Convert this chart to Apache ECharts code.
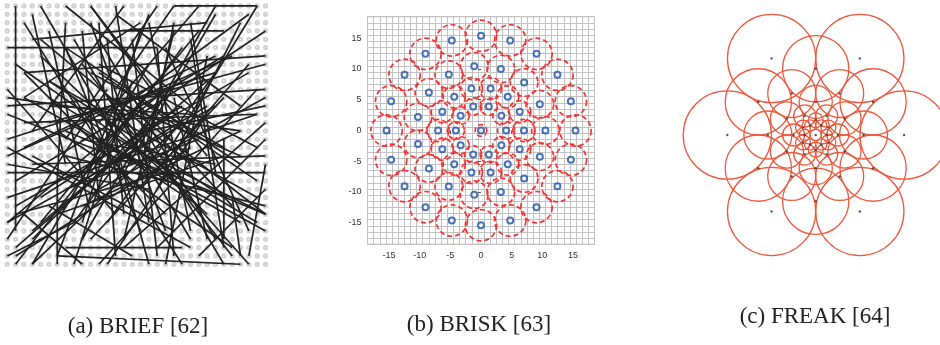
<!DOCTYPE html>
<html>
<head>
<meta charset="utf-8">
<script src="https://cdn.jsdelivr.net/npm/echarts@6/dist/echarts.min.js"></script>
<style>
  html, body { margin: 0; background: #fff; }
  #chart { width: 940px; height: 345px; }
</style>
</head>
<body>
<div id="chart"></div>
<script>
// (a) BRIEF: 32x32 sampling lattice and the random test pairs (col, row)
const briefCols = [1, 2, 3, 4, 5, 6, 7, 8, 9, 10, 11, 12, 13, 14, 15, 16, 17, 18, 19, 20, 21, 22, 23, 24, 25, 26, 27, 28, 29, 30, 31, 32];
const briefRows = [1, 2, 3, 4, 5, 6, 7, 8, 9, 10, 11, 12, 13, 14, 15, 16, 17, 18, 19, 20, 21, 22, 23, 24, 25, 26, 27, 28, 29, 30, 31, 32];
const briefPairs = [
  [2, 1, 2, 28], [1, 6, 19, 6], [21, 1, 31, 1], [21, 1, 14, 11], [31, 1, 20, 19],
  [7, 22, 7, 32], [7, 31, 29, 32], [1, 21, 32, 21], [5, 1, 16, 20], [8, 1, 23, 13],
  [3, 3, 13, 19], [11, 1, 19, 12], [15, 1, 4, 16], [19, 1, 8, 17], [14, 2, 29, 13],
  [24, 1, 12, 15], [26, 2, 15, 21], [29, 3, 19, 23], [15, 4, 27, 4], [4, 5, 25, 3],
  [3, 9, 32, 7], [6, 15, 32, 8], [1, 13, 32, 11], [2, 8, 22, 22], [1, 11, 14, 26],
  [1, 17, 26, 9], [4, 2, 8, 20], [6, 4, 11, 26], [8, 3, 7, 22], [12, 3, 14, 31],
  [16, 5, 19, 31], [18, 3, 23, 28], [23, 5, 27, 30], [20, 6, 30, 28], [6, 10, 31, 24],
  [3, 12, 29, 27], [1, 18, 23, 30], [1, 27, 26, 13], [1, 29, 13, 11], [2, 32, 19, 10],
  [4, 32, 22, 15], [1, 24, 31, 14], [2, 22, 27, 7], [5, 27, 24, 4], [7, 31, 18, 2],
  [10, 29, 26, 1], [12, 32, 31, 11], [15, 30, 32, 15], [20, 32, 25, 7], [26, 29, 12, 5],
  [28, 31, 10, 8], [31, 27, 6, 12], [32, 26, 8, 16], [32, 19, 4, 20], [31, 14, 3, 15],
  [30, 9, 2, 25], [28, 7, 1, 19], [32, 12, 12, 23], [27, 12, 11, 29], [25, 14, 13, 32],
  [23, 18, 2, 31], [20, 11, 1, 27], [18, 8, 4, 32], [16, 10, 9, 32], [13, 14, 18, 32],
  [9, 12, 22, 32], [7, 16, 28, 30], [8, 19, 32, 25], [12, 17, 32, 28], [14, 14, 30, 32],
  [17, 15, 27, 32], [21, 12, 25, 29], [22, 9, 9, 27], [25, 10, 4, 28], [26, 7, 3, 18],
  [29, 16, 1, 12], [29, 20, 8, 6], [31, 22, 12, 9], [27, 24, 6, 10], [25, 26, 5, 7],
  [23, 29, 9, 5], [20, 28, 11, 3], [18, 27, 14, 1], [15, 29, 21, 4], [13, 27, 26, 9],
  [10, 25, 29, 16], [7, 26, 27, 19], [4, 29, 18, 15], [2, 30, 17, 17], [1, 20, 18, 23],
  [1, 14, 16, 20], [3, 9, 20, 26], [5, 5, 23, 20], [8, 6, 17, 28], [10, 4, 12, 24],
  [13, 5, 15, 26], [17, 4, 10, 27], [19, 6, 21, 31], [21, 3, 18, 18], [23, 3, 26, 21],
  [15, 11, 28, 25], [13, 12, 29, 19], [11, 9, 27, 18], [12, 8, 31, 18], [15, 13, 30, 2],
  [17, 14, 32, 4], [18, 16, 32, 13], [22, 13, 5, 24], [24, 17, 8, 23], [26, 20, 10, 17],
  [11, 21, 22, 6], [10, 22, 25, 13], [9, 15, 24, 25], [6, 13, 23, 14], [14, 12, 32, 26],
  [18, 19, 32, 26], [27, 17, 27, 29], [28, 24, 29, 31], [8, 30, 22, 30], [1, 31, 9, 27],
  [10, 32, 3, 26], [3, 12, 17, 3], [4, 19, 21, 28], [17, 23, 30, 8], [25, 19, 11, 1],
  [32, 17, 19, 30], [30, 31, 32, 20], [24, 31, 32, 23], [6, 25, 16, 31], [2, 26, 20, 21]
];

// (b) BRISK: sampling points [x, y, smoothing radius]
const briskPoints = [
  [0, 0, 0.95],
  [4.1, 0, 1.4], [3.32, 2.41, 1.4], [1.27, 3.9, 1.4], [-1.27, 3.9, 1.4], [-3.32, 2.41, 1.4],
  [-4.1, 0, 1.4], [-3.32, -2.41, 1.4], [-1.27, -3.9, 1.4], [1.27, -3.9, 1.4], [3.32, -2.41, 1.4],
  [7, 0, 1.8], [6.31, 3.04, 1.8], [4.36, 5.47, 1.8], [1.56, 6.82, 1.8], [-1.56, 6.82, 1.8],
  [-4.36, 5.47, 1.8], [-6.31, 3.04, 1.8], [-7, 0, 1.8], [-6.31, -3.04, 1.8], [-4.36, -5.47, 1.8],
  [-1.56, -6.82, 1.8], [1.56, -6.82, 1.8], [4.36, -5.47, 1.8], [6.31, -3.04, 1.8],
  [10.5, 0, 2.25], [9.59, 4.27, 2.25], [7.03, 7.8, 2.25], [3.24, 9.99, 2.25], [-1.1, 10.44, 2.25],
  [-5.25, 9.09, 2.25], [-8.49, 6.17, 2.25], [-10.27, 2.18, 2.25], [-10.27, -2.18, 2.25], [-8.49, -6.17, 2.25],
  [-5.25, -9.09, 2.25], [-1.1, -10.44, 2.25], [3.24, -9.99, 2.25], [7.03, -7.8, 2.25], [9.59, -4.27, 2.25],
  [15.4, 0, 2.55], [14.65, 4.76, 2.55], [12.46, 9.05, 2.55], [9.05, 12.46, 2.55], [4.76, 14.65, 2.55],
  [0, 15.4, 2.55], [-4.76, 14.65, 2.55], [-9.05, 12.46, 2.55], [-12.46, 9.05, 2.55], [-14.65, 4.76, 2.55],
  [-15.4, 0, 2.55], [-14.65, -4.76, 2.55], [-12.46, -9.05, 2.55], [-9.05, -12.46, 2.55], [-4.76, -14.65, 2.55],
  [0, -15.4, 2.55], [4.76, -14.65, 2.55], [9.05, -12.46, 2.55], [12.46, -9.05, 2.55], [14.65, -4.76, 2.55]
];

// (c) FREAK: receptive fields [x, y, sigma]
const freakPoints = [
  [0.667, 0, 0.333], [0.333, 0.577, 0.333], [-0.333, 0.577, 0.333], [-0.667, 0, 0.333], [-0.333, -0.577, 0.333], [0.333, -0.577, 0.333],
  [0.433, 0.25, 0.25], [0, 0.5, 0.25], [-0.433, 0.25, 0.25], [-0.433, -0.25, 0.25], [0, -0.5, 0.25], [0.433, -0.25, 0.25],
  [0.361, 0, 0.181], [0.181, 0.313, 0.181], [-0.181, 0.313, 0.181], [-0.361, 0, 0.181], [-0.181, -0.313, 0.181], [0.181, -0.313, 0.181],
  [0.217, 0.125, 0.125], [0, 0.25, 0.125], [-0.217, 0.125, 0.125], [-0.217, -0.125, 0.125], [0, -0.25, 0.125], [0.217, -0.125, 0.125],
  [0.167, 0, 0.083], [0.083, 0.144, 0.083], [-0.083, 0.144, 0.083], [-0.167, 0, 0.083], [-0.083, -0.144, 0.083], [0.083, -0.144, 0.083],
  [0.096, 0.056, 0.056], [0, 0.111, 0.056], [-0.096, 0.056, 0.056], [-0.096, -0.056, 0.056], [0, -0.111, 0.056], [0.096, -0.056, 0.056],
  [0.083, 0, 0.042], [0.042, 0.072, 0.042], [-0.042, 0.072, 0.042], [-0.083, 0, 0.042], [-0.042, -0.072, 0.042], [0.042, -0.072, 0.042],
  [0, 0, 0.042]
];

const captions = ['(a) BRIEF [62]', '(b) BRISK [63]', '(c) FREAK [64]'];

const lattice = [];
briefRows.forEach((r) => briefCols.forEach((c) => lattice.push([c, r])));

function circleItem(style) {
  return (params, api) => {
    const c = api.coord([api.value(0), api.value(1)]);
    const r = api.size([api.value(2), 0])[0];
    return { type: 'circle', shape: { cx: c[0], cy: c[1], r: r }, style: Object.assign({}, style) };
  };
}

const briskAxisLabel = { fontSize: 9, color: '#2e2e40', fontFamily: 'Liberation Sans', showMinLabel: false, showMaxLabel: false };
const hidden = { axisLine: { show: false }, axisTick: { show: false }, axisLabel: { show: false }, splitLine: { show: false } };
const captionStyle = { align: 'center', verticalAlign: 'middle', fontSize: 23, fontFamily: 'Liberation Serif', fill: '#222' };

const chart = echarts.init(document.getElementById('chart'), null, { renderer: 'canvas' });
chart.setOption({
  animation: false,
  backgroundColor: '#fff',
  grid: [
    { left: 3.1, top: 1.8, width: 266.6, height: 266.6 },
    { left: 367.5, top: 16.7, width: 227, height: 227.6, show: true, borderColor: '#9a9a9a', borderWidth: 1 },
    { left: 367.5, top: 16.7, width: 227, height: 227.6 },
    { left: 683.2, top: 2.5, width: 256.8, height: 265 }
  ],
  xAxis: [
    Object.assign({ gridIndex: 0, type: 'value', min: 0.5, max: 32.5 }, hidden),
    {
      gridIndex: 1, type: 'value', min: -18.5, max: 18.5, splitNumber: 7, minInterval: 5, maxInterval: 5,
      axisLine: { show: false }, splitLine: { show: false },
      axisTick: { show: true, length: 3, lineStyle: { color: '#555' } },
      axisLabel: Object.assign({ margin: 7 }, briskAxisLabel)
    },
    Object.assign({ gridIndex: 2, type: 'value', min: 0, max: 37, interval: 1 }, hidden,
      { splitLine: { show: true, lineStyle: { color: '#c2c2c2', width: 1 } } }),
    Object.assign({ gridIndex: 3, type: 'value', min: -1, max: 0.938 }, hidden)
  ],
  yAxis: [
    Object.assign({ gridIndex: 0, type: 'value', min: 0.5, max: 32.5, inverse: true }, hidden),
    {
      gridIndex: 1, type: 'value', min: -18.5, max: 18.5, splitNumber: 7, minInterval: 5, maxInterval: 5,
      axisLine: { show: false }, splitLine: { show: false },
      axisTick: { show: true, length: 3, lineStyle: { color: '#555' } },
      axisLabel: Object.assign({ margin: 6 }, briskAxisLabel)
    },
    Object.assign({ gridIndex: 2, type: 'value', min: 0, max: 37, interval: 1 }, hidden,
      { splitLine: { show: true, lineStyle: { color: '#c2c2c2', width: 1 } } }),
    Object.assign({ gridIndex: 3, type: 'value', min: -1, max: 1 }, hidden)
  ],
  series: [
    {
      type: 'scatter', xAxisIndex: 0, yAxisIndex: 0, silent: true, data: lattice, z: 1,
      symbol: 'emptyCircle', symbolSize: 3.2,
      itemStyle: { color: '#c6c6c6', borderWidth: 0.7 }
    },
    {
      type: 'custom', xAxisIndex: 0, yAxisIndex: 0, silent: true, data: briefPairs, z: 3,
      encode: { x: [0, 2], y: [1, 3] },
      renderItem: (params, api) => {
        const p1 = api.coord([api.value(0), api.value(1)]);
        const p2 = api.coord([api.value(2), api.value(3)]);
        return {
          type: 'line',
          shape: { x1: p1[0], y1: p1[1], x2: p2[0], y2: p2[1] },
          style: { stroke: '#222', lineWidth: 1.7 }
        };
      }
    },
    {
      type: 'custom', xAxisIndex: 1, yAxisIndex: 1, silent: true, data: briskPoints,
      renderItem: circleItem({ fill: 'none', stroke: '#f03434', lineWidth: 1.7, lineDash: [5, 3] })
    },
    {
      type: 'scatter', xAxisIndex: 1, yAxisIndex: 1, silent: true, data: briskPoints, z: 4,
      symbol: 'circle', symbolSize: 6,
      itemStyle: { color: '#fff', borderColor: '#1f4fa8', borderWidth: 2 }
    },
    {
      type: 'custom', xAxisIndex: 3, yAxisIndex: 3, silent: true, data: freakPoints,
      renderItem: circleItem({ fill: 'none', stroke: '#ea5a3e', lineWidth: 1.3 })
    },
    {
      type: 'scatter', xAxisIndex: 3, yAxisIndex: 3, silent: true, data: freakPoints, z: 4,
      symbol: 'circle', symbolSize: 2.4, itemStyle: { color: '#333' }
    }
  ],
  graphic: [
    { type: 'text', x: 138, y: 327, style: Object.assign({ text: captions[0] }, captionStyle) },
    { type: 'text', x: 479, y: 325, style: Object.assign({ text: captions[1] }, captionStyle) },
    { type: 'text', x: 815, y: 317, style: Object.assign({ text: captions[2] }, captionStyle) }
  ]
});
</script>
</body>
</html>
